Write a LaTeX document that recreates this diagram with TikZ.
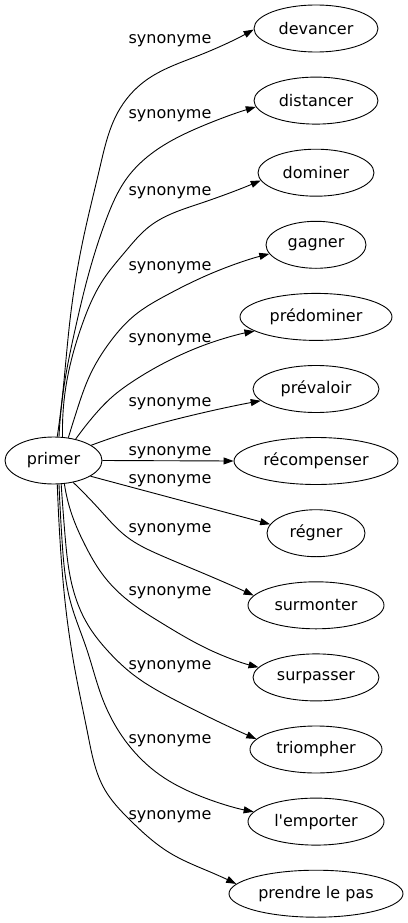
\documentclass[tikz,border=0pt]{standalone}
\usepackage{fontspec}
\setmainfont{DejaVu Sans}[Ligatures=TeXOff]
\usetikzlibrary{shapes.geometric,arrows.meta,hobby}
\begin{document}
\begin{tikzpicture}[x=1pt,y=-1pt,
  word/.style={draw, ellipse, inner sep=0pt, minimum height=47pt, line width=0.9pt, font=\fontsize{16}{19}\selectfont},
  lbl/.style={anchor=base, inner sep=0pt, font=\fontsize{16}{19}\selectfont},
  edge/.style={line width=0.9pt, -{Triangle[length=10pt,width=7pt]}}]
\useasboundingbox (0,0) rectangle (407,923);
\node[word, minimum width=97pt] (r) at (53.5,460.5) {primer};
\node[word, minimum width=124pt] (n1) at (316,28.5) {devancer};
\node[word, minimum width=124pt] (n2) at (316,100.6) {distancer};
\node[word, minimum width=116pt] (n3) at (316,172.7) {dominer};
\node[word, minimum width=100pt] (n4) at (316,244.8) {gagner};
\node[word, minimum width=152pt] (n5) at (316,316.9) {prédominer};
\node[word, minimum width=126pt] (n6) at (316,389) {prévaloir};
\node[word, minimum width=164pt] (n7) at (316,461) {récompenser};
\node[word, minimum width=98pt] (n8) at (316,533.2) {régner};
\node[word, minimum width=136pt] (n9) at (316,605.3) {surmonter};
\node[word, minimum width=126pt] (n10) at (316,677.4) {surpasser};
\node[word, minimum width=132pt] (n11) at (316,749.5) {triompher};
\node[word, minimum width=136pt] (n12) at (316,821.6) {l'emporter};
\node[word, minimum width=174pt] (n13) at (316,893.7) {prendre le pas};
% labels
\node[lbl] (l1) at (170,43.5) {synonyme};
\node[lbl] (l2) at (170,118.5) {synonyme};
\node[lbl] (l3) at (170,195.5) {synonyme};
\node[lbl] (l4) at (170,270.5) {synonyme};
\node[lbl] (l5) at (170,342.5) {synonyme};
\node[lbl] (l6) at (170,406.5) {synonyme};
\node[lbl] (l7) at (170,455.5) {synonyme};
\node[lbl] (l8) at (170,483) {synonyme};
\node[lbl] (l9) at (170,532.5) {synonyme};
\node[lbl] (l10) at (170,595.5) {synonyme};
\node[lbl] (l11) at (170,669.5) {synonyme};
\node[lbl] (l12) at (170,743.5) {synonyme};
\node[lbl] (l13) at (170,819.5) {synonyme};
% edges
\draw[edge] (r.81) to[curve through={(62,400) .. (70,320) .. (83,240) .. (100,167) .. (118,112) .. (145,81) .. (200,55)}] (n1.181);
\draw[edge] (r.77) to[curve through={(65,380) .. (75,330) .. (87,280) .. (106,220) .. (127,178) .. (155,151) .. (200,127)}] (n2.186);
\draw[edge] (r.69) to[curve through={(67,380) .. (82,325) .. (103,280) .. (125,252) .. (150,226) .. (200,203.5)}] (n3.188);
\draw[edge] (r.57) to[curve through={(77,410) .. (90,375) .. (110,342) .. (135,315) .. (165,296) .. (210,274)}] (n4.191);
\draw[edge] (r.44) to[curve through={(92,418) .. (112,397) .. (135,380) .. (170,360) .. (210,343)}] (n5.193);
\draw[edge] (r.22) to[curve through={(130,432) .. (177,419)}] (n6.192);
\draw[edge] (r.east) -- (n7.west);
\draw[edge] (r.337) -- (n8.169);
\draw[edge] (r.312) to[curve through={(100,510) .. (127,537) .. (160,555) .. (205,574)}] (n9.171);
\draw[edge] (r.295) to[curve through={(72,515) .. (85,545) .. (103,575) .. (125,598) .. (160,622) .. (210,650)}] (n10.170);
\draw[edge] (r.288) to[curve through={(65,535) .. (72,585) .. (88,625) .. (107,650) .. (135,676) .. (175,700)}] (n11.170);
\draw[edge] (r.283) to[curve through={(62,540) .. (70,600) .. (87,650) .. (103,700) .. (127,743) .. (160,775) .. (200,796)}] (n12.171);
\draw[edge] (r.279) to[curve through={(60,540) .. (66,610) .. (75,670) .. (88,735) .. (105,790) .. (130,820) .. (170,853) .. (215,874)}] (n13.173);
\end{tikzpicture}
\end{document}
